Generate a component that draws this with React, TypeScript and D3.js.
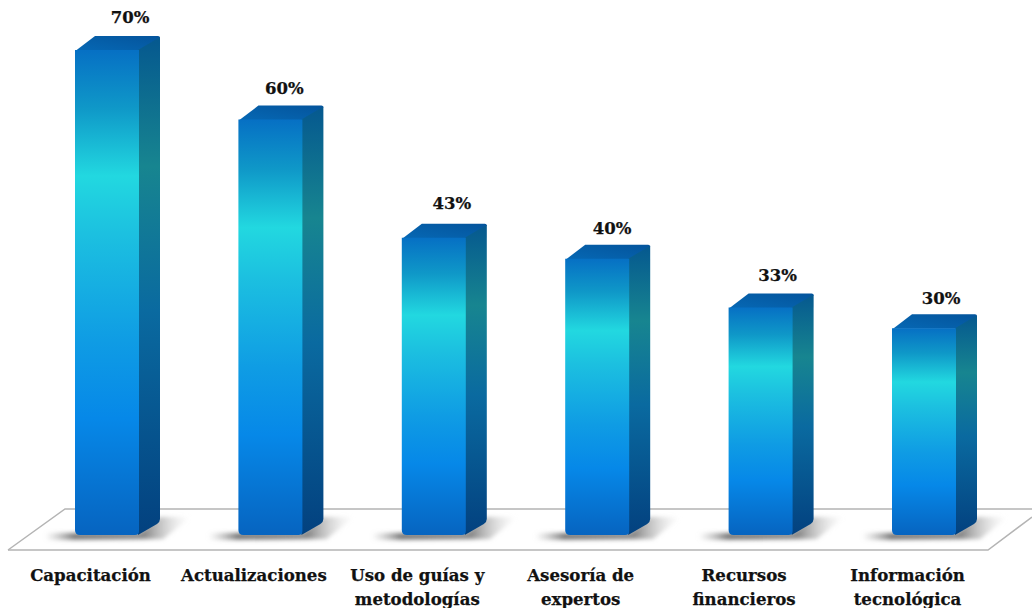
import React from "react";
import * as d3 from "d3";

const categories = ["Capacitación", "Actualizaciones", "Uso de guías y|metodologías", "Asesoría de|expertos", "Recursos|financieros", "Información|tecnológica"];
const values = [70, 60, 43, 40, 33, 30];

const W = 1032, H = 608;
const bwTarget = 64, step = 163.4;
const x = d3.scaleBand<number>()
  .domain(d3.range(values.length))
  .range([75, 75 + (values.length - 1) * step + bwTarget])
  .paddingInner(1 - bwTarget / step)
  .paddingOuter(0);
const y = d3.scaleLinear().domain([0, 70]).range([537, 50]);
const dx = 21, dy = -14;
const FONT = "'DejaVu Serif', serif";
const pctNudgeX = [55, 46, 50, 47, 49, 49];
const pctNudgeY = [27, 26, 29, 25, 26, 24];

export default function App() {
  const bw = x.bandwidth();
  return (
    <svg width={W} height={H} style={{ position: "absolute", left: 0, top: 0, background: "#fff" }}>
      <defs>
        <linearGradient id="front" x1="0" y1="0" x2="0" y2="1">
          <stop offset="0" stopColor="#0670c4" />
          <stop offset="0.12" stopColor="#0f98c8" />
          <stop offset="0.26" stopColor="#22d8e0" />
          <stop offset="0.38" stopColor="#1cc0e0" />
          <stop offset="0.6" stopColor="#0f9ce4" />
          <stop offset="0.76" stopColor="#0688e8" />
          <stop offset="1" stopColor="#0664c0" />
        </linearGradient>
        <linearGradient id="side" x1="0" y1="0" x2="0" y2="1">
          <stop offset="0" stopColor="#05588f" />
          <stop offset="0.26" stopColor="#178590" />
          <stop offset="0.55" stopColor="#0a6aa0" />
          <stop offset="1" stopColor="#03417f" />
        </linearGradient>
        <linearGradient id="top" x1="0" y1="1" x2="1" y2="0">
          <stop offset="0" stopColor="#0668b4" />
          <stop offset="1" stopColor="#04549c" />
        </linearGradient>
        <linearGradient id="shadow" x1="0" y1="0" x2="1" y2="0">
          <stop offset="0" stopColor="#aaa" stopOpacity="0" />
          <stop offset="0.2" stopColor="#777" stopOpacity="1" />
          <stop offset="0.68" stopColor="#888" stopOpacity="1" />
          <stop offset="1" stopColor="#ddd" stopOpacity="0" />
        </linearGradient>
        <filter id="blur" x="-20%" y="-50%" width="140%" height="200%">
          <feGaussianBlur stdDeviation="2" />
        </filter>
      </defs>
      <path d="M8,550 L65,509 L1032,509" fill="none" stroke="#b4b4b4" strokeWidth={1.5} />
      <path d="M8,550 L988,550 L1032,517" fill="none" stroke="#b4b4b4" strokeWidth={1.5} />
      {values.map((v, i) => {
        const x0 = x(i) as number;
        const yt = y(v);
        const yb = y(0) - 1;
        return (
          <g key={i}>
            <path d={`M${x0 - 30},${yb - 3} L${x0 + bw},${yb - 3} L${x0 + bw + dx},${yb - 19} L${x0 + bw + 52},${yb - 19} L${x0 + bw + 24},${yb + 3} L${x0 - 30},${yb + 4} Z`} fill="url(#shadow)" filter="url(#blur)" />
            <path d={`M${x0 + 1},${yt + 0.5} L${x0 + dx - 1},${yt + dy} L${x0 + bw + dx - 2},${yt + dy} Q${x0 + bw + dx},${yt + dy} ${x0 + bw + dx},${yt + dy + 2} L${x0 + bw},${yt + 0.5} Z`} fill="url(#top)" />
            <path d={`M${x0 + bw - 1},${yt} L${x0 + bw + dx},${yt + dy + 1} L${x0 + bw + dx},${yb + dy - 3} Q${x0 + bw + dx},${yb + dy} ${x0 + bw + dx - 3},${yb + dy + 2} L${x0 + bw - 1},${yb - 1} Z`} fill="url(#side)" />
            <path d={`M${x0},${yt} L${x0 + bw},${yt} L${x0 + bw},${yb - 5} Q${x0 + bw},${yb - 1} ${x0 + bw - 4},${yb - 1} L${x0 + 5},${yb - 1} Q${x0},${yb - 1} ${x0},${yb - 6} Z`} fill="url(#front)" />
            <text x={x0 + pctNudgeX[i]} y={yt - pctNudgeY[i]} textAnchor="middle" fontFamily={FONT} fontWeight="bold" fontSize={16.5} fill="#111" stroke="#111" strokeWidth={0.25}>{v}%</text>
            {categories[i].split("|").map((line, k) => (
              <text key={k} x={x0 + 15.5} y={581 + k * 24} textAnchor="middle" fontFamily={FONT} fontWeight="bold" fontSize={16.6} fill="#111" stroke="#111" strokeWidth={0.25}>{line}</text>
            ))}
          </g>
        );
      })}
    </svg>
  );
}
